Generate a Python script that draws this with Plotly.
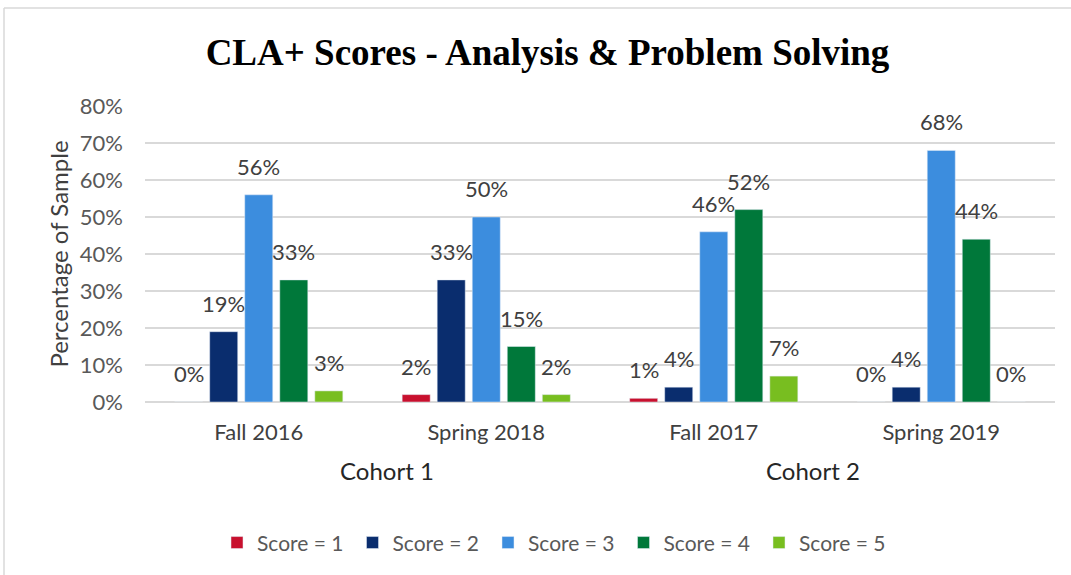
import plotly.graph_objects as go

terms = ["Fall 2016", "Spring 2018", "Fall 2017", "Spring 2019"]
cohort_labels = ["Cohort 1", "Cohort 2"]
series_names = ["Score = 1", "Score = 2", "Score = 3", "Score = 4", "Score = 5"]
score1 = [0, 2, 1, 0]
score2 = [19, 33, 4, 4]
score3 = [56, 50, 46, 68]
score4 = [33, 15, 52, 44]
score5 = [3, 2, 7, 0]
colors = ["#C8102E", "#0A2D6E", "#3C8DDE", "#00783A", "#78BE20"]

FONT = "Lato, Carlito, sans-serif"
SLOT_PX = 910 / 4 * (1 - 0.23) / 5  # pixel width of one bar slot in a group

fig = go.Figure()
all_series = [score1, score2, score3, score4, score5]
for i, (name, vals, col) in enumerate(zip(series_names, all_series, colors)):
    fig.add_trace(go.Bar(x=terms, y=vals, name=name, marker_color=col))
    # value labels, floated a little above each bar
    for t, v in zip(terms, vals):
        fig.add_annotation(x=t, y=v, text=f"{v}%", showarrow=False,
                           xanchor="center", yanchor="bottom",
                           xshift=(i - 2) * SLOT_PX, yshift=13,
                           font=dict(family=FONT, size=22, color="#404040"))

fig.update_layout(
    width=1071, height=575,
    paper_bgcolor="white", plot_bgcolor="white",
    margin=dict(l=145, r=16, t=106, b=173, autoexpand=False),
    barmode="group", bargap=0.23, bargroupgap=0.2,
    title=dict(text="<b>CLA+ Scores - Analysis &amp; Problem Solving</b>",
               x=547.5 / 1071, xref="container", xanchor="center",
               y=1 - 52 / 575, yref="container", yanchor="middle",
               font=dict(family="Liberation Serif, Times New Roman, serif", size=37, color="black")),
    legend=dict(orientation="h", x=556 / 1071, xref="container", xanchor="center",
                y=-0.476, yanchor="middle",
                font=dict(family=FONT, size=21, color="#595959"),
                itemwidth=30, entrywidth=90.5, traceorder="normal"),
    font=dict(family=FONT, color="#595959"),
    showlegend=True,
)
fig.update_yaxes(range=[0, 80], dtick=10, ticksuffix="%", showgrid=True, automargin=False,
                 gridcolor="#d9d9d9", gridwidth=1.5, zeroline=True, zerolinecolor="#d9d9d9",
                 zerolinewidth=1.5, tickfont=dict(size=22, color="#595959"), ticklabelstandoff=21,
                 title=dict(text="Percentage of Sample", font=dict(size=24, color="#404040"), standoff=4))
fig.update_xaxes(tickfont=dict(size=22, color="#404040"), automargin=False,
                 showline=False, ticks="", ticklabelstandoff=15)

for label, xpos in zip(cohort_labels, [(387 - 145) / 910, (813 - 145) / 910]):
    fig.add_annotation(text=label, xref="paper", yref="paper", x=xpos, y=(402 - 470) / 296,
                       showarrow=False, xanchor="center", yanchor="middle",
                       font=dict(family=FONT, size=24, color="#262626"))

# chart frame
fig.add_shape(type="line", xref="paper", yref="paper", x0=(4 - 145) / 910, x1=1.02,
              y0=(402 - 8) / 296, y1=(402 - 8) / 296, line=dict(color="#d9d9d9", width=1.5))
fig.add_shape(type="line", xref="paper", yref="paper", x0=(4 - 145) / 910, x1=(4 - 145) / 910,
              y0=(402 - 8) / 296, y1=-0.6, line=dict(color="#d9d9d9", width=1.5))

fig.write_html("out.html", config={"displayModeBar": False},
               post_script="document.body.style.margin='0';")
